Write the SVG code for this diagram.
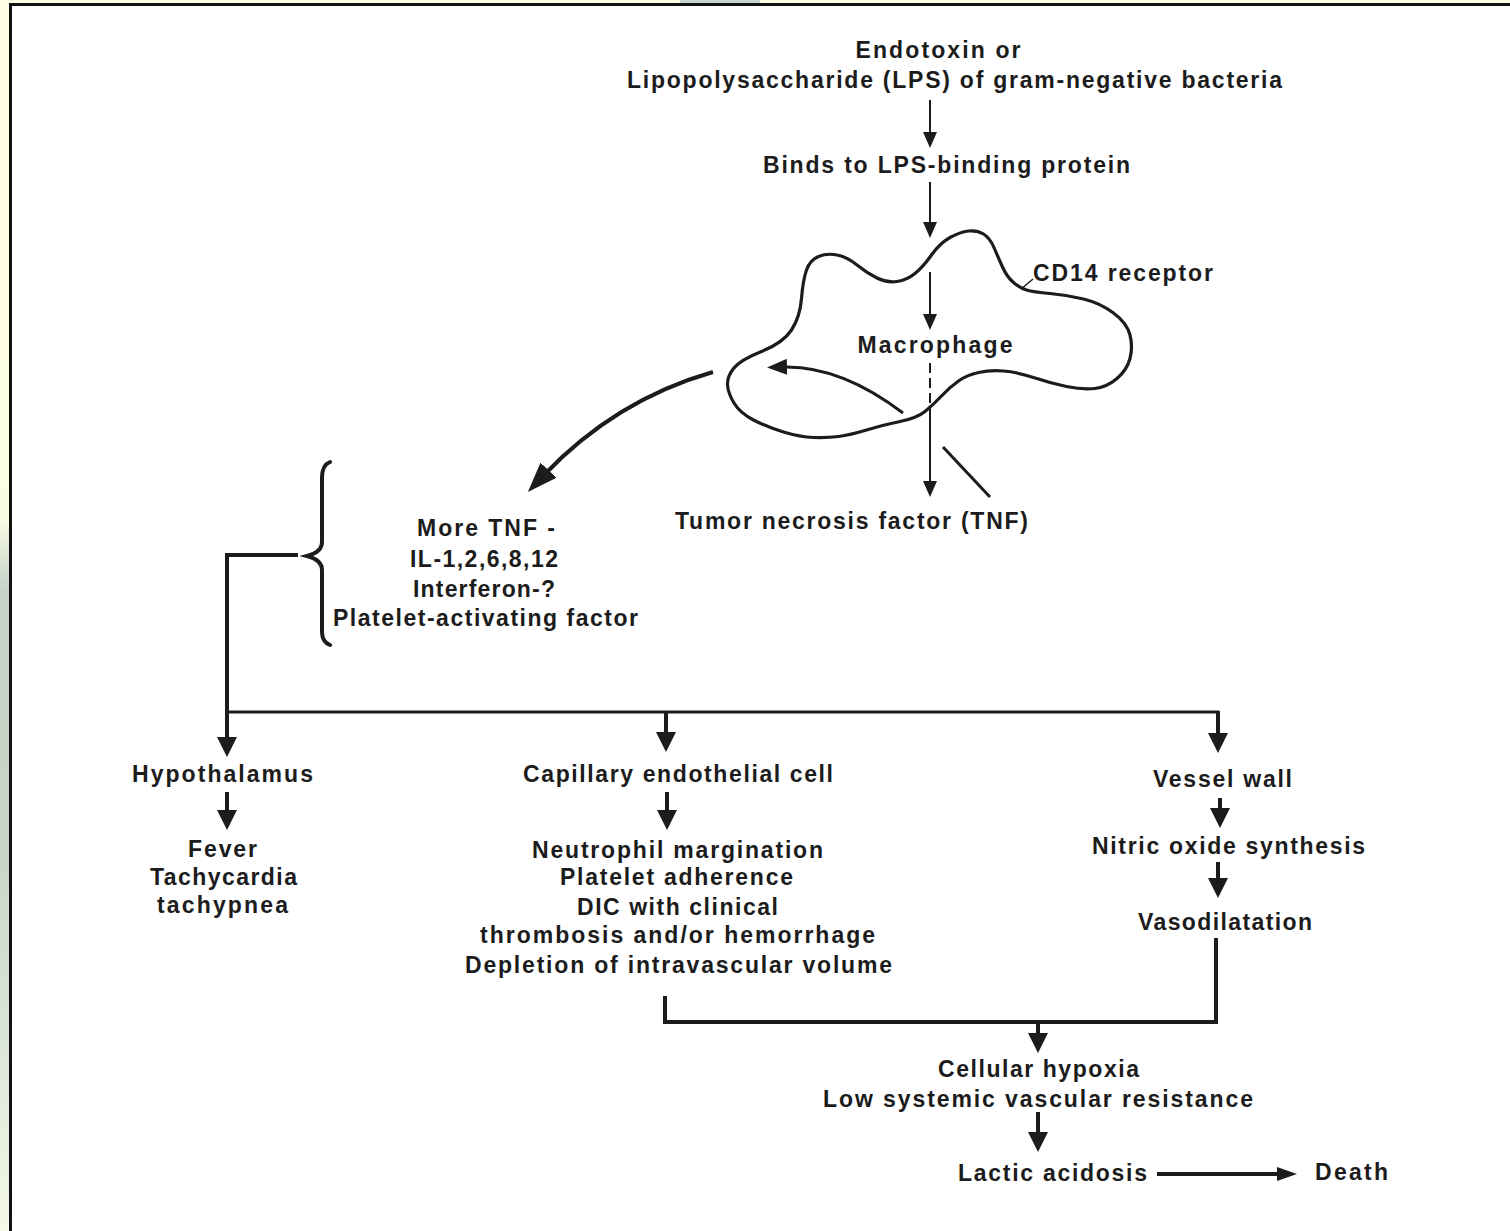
<svg xmlns="http://www.w3.org/2000/svg" width="1510" height="1231" viewBox="0 0 1510 1231">
<defs>
<linearGradient id="lstrip" x1="0" y1="0" x2="0" y2="1">
<stop offset="0" stop-color="#fefee6"/>
<stop offset="0.42" stop-color="#fbfce4"/>
<stop offset="0.48" stop-color="#c4d2c8"/>
<stop offset="0.7" stop-color="#c8d6c8"/>
<stop offset="0.85" stop-color="#dce6d8"/>
<stop offset="1" stop-color="#f4f8e6"/>
</linearGradient>
<marker id="ah" markerUnits="userSpaceOnUse" viewBox="0 0 16 14" markerWidth="16" markerHeight="14" refX="4" refY="7" orient="auto"><path d="M0,0 L16,7 L0,14 z" fill="#1c1c1c"/></marker>
<marker id="ahT" markerUnits="userSpaceOnUse" viewBox="0 0 20 20" markerWidth="20" markerHeight="20" refX="5" refY="10" orient="auto"><path d="M0,0 L20,10 L0,20 z" fill="#1c1c1c"/></marker>
<marker id="ahC" markerUnits="userSpaceOnUse" viewBox="0 0 30 22" markerWidth="30" markerHeight="22" refX="8" refY="11" orient="auto"><path d="M0,0 L30,11 L0,22 z" fill="#1c1c1c"/></marker>
<marker id="ahI" markerUnits="userSpaceOnUse" viewBox="0 0 20 16" markerWidth="20" markerHeight="16" refX="5" refY="8" orient="auto"><path d="M0,0 L20,8 L0,16 z" fill="#1c1c1c"/></marker>
<marker id="ahD" markerUnits="userSpaceOnUse" viewBox="0 0 20 14" markerWidth="20" markerHeight="14" refX="5" refY="7" orient="auto"><path d="M0,0 L20,7 L0,14 z" fill="#1c1c1c"/></marker>
</defs>
<style>
.t{font-family:"Liberation Sans",Arial,Helvetica,sans-serif;font-weight:bold;font-size:23px;fill:#1c1c1c;text-anchor:middle}
.ln{fill:none;stroke:#1c1c1c;stroke-width:2}
.lk{fill:none;stroke:#1c1c1c;stroke-width:4}
.lb{fill:none;stroke:#1c1c1c;stroke-width:3}
</style>
<rect x="0" y="0" width="1510" height="1231" fill="#fefee6"/>
<rect x="0" y="0" width="10" height="1231" fill="url(#lstrip)"/>
<rect x="680" y="0" width="80" height="4" fill="#c9d5cc"/>
<rect x="10.5" y="4.5" width="1510" height="1240" fill="#ffffff" stroke="#111" stroke-width="3"/>

<g id="connectors">
<line class="ln" x1="930" y1="100" x2="930" y2="136" marker-end="url(#ah)"/>
<line class="ln" x1="930" y1="182" x2="930" y2="226" marker-end="url(#ah)"/>
<line class="ln" x1="930" y1="272" x2="930" y2="318" marker-end="url(#ah)"/>
<line class="ln" x1="930" y1="363" x2="930" y2="420" stroke-dasharray="10,5"/>
<line class="ln" x1="930" y1="418" x2="930" y2="485" marker-end="url(#ah)"/>
<line class="lb" x1="943" y1="447" x2="990" y2="497"/>
<path class="lb" d="M903,413 Q840,365 782,367" marker-end="url(#ahI)"/>
<path class="lk" d="M713,372 Q615,400 543,476" marker-end="url(#ahC)"/>
<path class="lk" d="M330,462 Q322,465 322,478 L322,542 Q322,552 307,556 Q322,560 322,570 L322,632 Q322,642 330,645" stroke-linecap="round"/>
<path class="lk" d="M298,555 H227 V742" marker-end="url(#ahT)"/>
<line class="lb" x1="227" y1="712" x2="1219" y2="712"/>
<line class="lk" x1="666" y1="712" x2="666" y2="737" marker-end="url(#ahT)"/>
<line class="lk" x1="1218" y1="711" x2="1218" y2="738" marker-end="url(#ahT)"/>
<line class="lk" x1="227" y1="792" x2="227" y2="815" marker-end="url(#ahT)"/>
<line class="lk" x1="667" y1="792" x2="667" y2="815" marker-end="url(#ahT)"/>
<line class="lk" x1="1220" y1="798" x2="1220" y2="813" marker-end="url(#ahT)"/>
<line class="lk" x1="1218" y1="862" x2="1218" y2="883" marker-end="url(#ahT)"/>
<path class="lk" d="M665,996 V1022 H1216 V938"/>
<line class="lk" x1="1038" y1="1022" x2="1038" y2="1038" marker-end="url(#ahT)"/>
<line class="lk" x1="1038" y1="1112" x2="1038" y2="1137" marker-end="url(#ahT)"/>
<line class="lk" x1="1157" y1="1174" x2="1282" y2="1174" marker-end="url(#ahD)"/>
<line stroke="#1c1c1c" stroke-width="1.5" x1="1021" y1="289" x2="1033" y2="279"/>
</g>

<g id="macrophage-cell">
<path fill="none" stroke="#1c1c1c" stroke-width="3.2" stroke-linejoin="round" d="M733.5,368.5 Q740,360 761.5,351.5 Q783,343 791.5,330 Q800,317 801.5,298.5 Q803,280 806.5,270 Q810,260 818.5,256.5 Q827,253 837,255 Q847,257 857,265 Q867,273 877,278 Q887,283 897,281.5 Q907,280 915,273.5 Q923,267 931.5,255 Q940,243 950,237.5 Q960,232 968.5,231 Q977,230 983.5,234 Q990,238 994,247.5 Q998,257 1002.5,267 Q1007,277 1013.5,282.5 Q1020,288 1026.5,290 Q1033,292 1050,293.5 Q1067,295 1083.5,299 Q1100,303 1113.5,313 Q1127,323 1130,335 Q1133,347 1130,358.5 Q1127,370 1117,378.5 Q1107,387 1095,388.5 Q1083,390 1066.5,386.5 Q1050,383 1033.5,377.5 Q1017,372 1003.5,371 Q990,370 978.5,372.5 Q967,375 958.5,381 Q950,387 941.5,396 Q933,405 925,411.5 Q917,418 900,421.5 Q883,425 866.5,430 Q850,435 838.5,436.5 Q827,438 813.5,437.5 Q800,437 783.5,432 Q767,427 753.5,420 Q740,413 734,403 Q728,393 727.5,385 Q727,377 733.5,368.5 Z"/>
</g>

<g id="endotoxin"><text class="t" x="938" y="58" textLength="165">Endotoxin or</text><text class="t" x="954.5" y="88" textLength="655">Lipopolysaccharide (LPS) of gram-negative bacteria</text></g>
<g id="binds"><text class="t" x="946.5" y="173" textLength="367">Binds to LPS-binding protein</text></g>
<g id="cd14"><text class="t" x="1123" y="281" textLength="180">CD14 receptor</text></g>
<g id="macrophage"><text class="t" x="935" y="353" textLength="155">Macrophage</text></g>
<g id="tnf"><text class="t" x="851.5" y="529" textLength="353">Tumor necrosis factor (TNF)</text></g>
<g id="cytokines">
<text class="t" x="486" y="536" textLength="138">More TNF -</text>
<text class="t" x="484" y="567" textLength="148">IL-1,2,6,8,12</text>
<text class="t" x="484" y="597" textLength="142">Interferon-?</text>
<text class="t" x="485.5" y="626" textLength="305">Platelet-activating factor</text>
</g>
<g id="hypothalamus"><text class="t" x="222.5" y="782" textLength="181">Hypothalamus</text></g>
<g id="fever">
<text class="t" x="222.5" y="857" textLength="69">Fever</text>
<text class="t" x="223.5" y="885" textLength="147">Tachycardia</text>
<text class="t" x="222.5" y="913" textLength="131">tachypnea</text>
</g>
<g id="capillary"><text class="t" x="678" y="782" textLength="310">Capillary endothelial cell</text></g>
<g id="neutrophil">
<text class="t" x="677.5" y="858" textLength="291">Neutrophil margination</text>
<text class="t" x="676.5" y="885" textLength="233">Platelet adherence</text>
<text class="t" x="677.5" y="915" textLength="201">DIC with clinical</text>
<text class="t" x="677.5" y="943" textLength="395">thrombosis and/or hemorrhage</text>
<text class="t" x="678.5" y="973" textLength="427">Depletion of intravascular volume</text>
</g>
<g id="vessel-wall"><text class="t" x="1222.5" y="787" textLength="139">Vessel wall</text></g>
<g id="nitric-oxide"><text class="t" x="1228.5" y="854" textLength="273">Nitric oxide synthesis</text></g>
<g id="vasodilatation"><text class="t" x="1225" y="930" textLength="174">Vasodilatation</text></g>
<g id="hypoxia">
<text class="t" x="1038.5" y="1077" textLength="201">Cellular hypoxia</text>
<text class="t" x="1038" y="1107" textLength="430">Low systemic vascular resistance</text>
</g>
<g id="lactic"><text class="t" x="1052.5" y="1181" textLength="189">Lactic acidosis</text></g>
<g id="death"><text class="t" x="1351.5" y="1180" textLength="73">Death</text></g>
</svg>
